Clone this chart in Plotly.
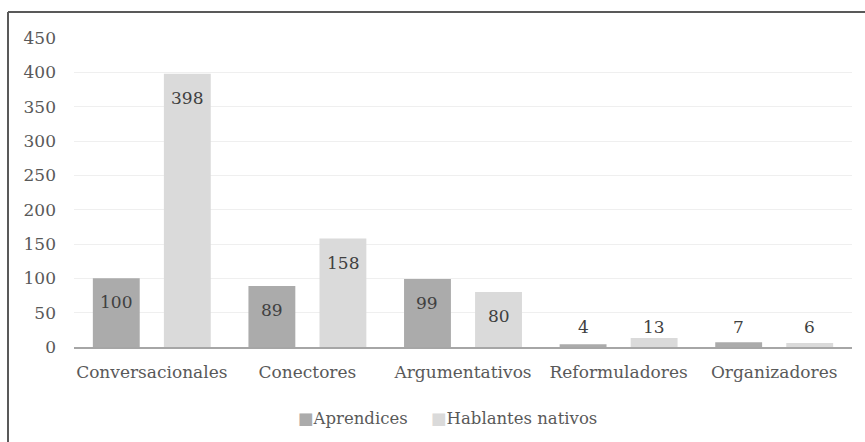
import plotly.graph_objects as go

categories = ["Conversacionales", "Conectores", "Argumentativos", "Reformuladores", "Organizadores"]
series_names = ["Aprendices", "Hablantes nativos"]
aprendices = [100, 89, 99, 4, 7]
nativos = [398, 158, 80, 13, 6]
y_ticks = [0, 50, 100, 150, 200, 250, 300, 350, 400, 450]

colors = ["#ababab", "#dadada"]
FONT = "DejaVu Serif"
FS = 17

W, H = 865, 442
ML, MR, MT, MB = 74, 13, 38, 95
PW = W - ML - MR
PH = H - MT - MB
YMAX = 450

fig = go.Figure()
for name, vals, col in zip(series_names, [aprendices, nativos], colors):
    fig.add_trace(go.Bar(name=name, x=categories, y=vals, marker_color=col,
                         marker_line_width=0, showlegend=False))

# data labels
px_per_unit = PH / YMAX
slot_px = PW / len(categories) * (1 - 0.087) / 2
annotations = []
for i, vals in enumerate([aprendices, nativos]):
    shift = (-0.5 + i) * slot_px
    for c, v in zip(categories, vals):
        ypos = max(v - 24 / px_per_unit, 20 / px_per_unit)
        annotations.append(dict(x=c, y=ypos, xref="x", yref="y", text=str(v),
                                showarrow=False, xshift=shift, yanchor="middle",
                                font=dict(family=FONT, size=FS, color="#404040")))

# legend built as annotations
leg_y = (MT + PH - 418) / PH
leg_x = [(296 - ML) / PW, (429 - ML) / PW]
for name, col, lx in zip(series_names, colors, leg_x):
    annotations.append(dict(x=lx, y=leg_y, xref="paper", yref="paper", xanchor="left",
                            yanchor="middle", showarrow=False,
                            text=f'<span style="color:{col}">■</span>{name}',
                            font=dict(family=FONT, size=FS - 0.5, color="#595959")))

# border (top and left)
bx = (8 - ML) / PW
by = (MT + PH - 12) / PH
shapes = [
    dict(type="line", xref="paper", yref="paper", x0=bx, x1=(W - ML) / PW + 0.01, y0=by, y1=by,
         line=dict(color="#595959", width=2)),
    dict(type="line", xref="paper", yref="paper", x0=bx, x1=bx, y0=by, y1=(MT + PH - H) / PH - 0.01,
         line=dict(color="#595959", width=2)),
]

fig.update_layout(
    width=W, height=H,
    margin=dict(l=ML, r=MR, t=MT, b=MB),
    paper_bgcolor="white", plot_bgcolor="white",
    barmode="group", bargap=0.087, bargroupgap=0.34,
    font=dict(family=FONT, size=FS, color="#595959"),
    annotations=annotations, shapes=shapes,
    xaxis=dict(showgrid=False, showline=True, linecolor="#a6a6a6", linewidth=2,
               ticks="", ticklabelstandoff=9, tickfont=dict(family=FONT, size=FS, color="#595959")),
    yaxis=dict(range=[0, YMAX], tickvals=y_ticks, showgrid=True, gridcolor="#efefef", gridwidth=1,
               zeroline=False, showline=False, ticks="", ticklabelstandoff=17,
               tickfont=dict(family=FONT, size=FS, color="#595959")),
)
fig.write_html("out.html")
